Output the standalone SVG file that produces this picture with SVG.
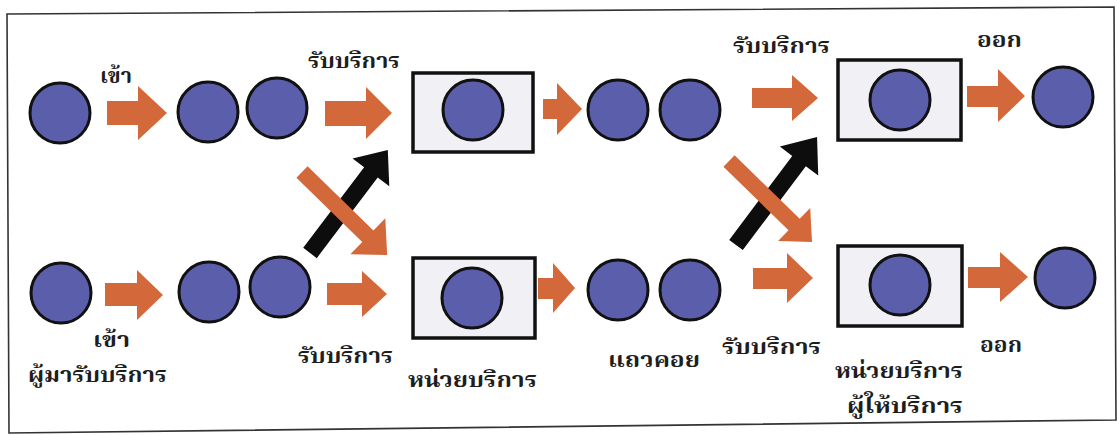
<svg xmlns="http://www.w3.org/2000/svg" width="1117" height="435" viewBox="0 0 1117 435">
  <style>
    .c { fill: #5a5eab; stroke: #111; stroke-width: 3; }
    .box { fill: #f1f1f5; stroke: #111; stroke-width: 3.5; }
    .oa { fill: #d3683b; }
    .ba { fill: #0d0d0d; }
    .t { font-family: "Noto Serif Thai", "Noto Sans Thai", "Loma", "Garuda", "DejaVu Sans", serif; font-size: 22px; font-weight: bold; fill: #1e1e1e; }
  </style>
  <defs>
    <!-- diagonal arrows, pointing along +x, tail at origin -->
    <polygon id="diagB1" points="0,-8.5 101,-8.5 101,-23 129,0 101,23 101,8.5 0,8.5"/>
    <polygon id="diagO1" points="0,-8 92,-8 92,-25 119,0 92,25 92,8 0,8"/>
    <polygon id="diagB2" points="0,-8.5 105,-8.5 105,-24 135,0 105,24 105,8.5 0,8.5"/>
    <polygon id="diagO2" points="0,-8 91,-8 91,-23 116,0 91,23 91,8 0,8"/>
  </defs>

  <rect width="1117" height="435" fill="#ffffff"/>
  <polygon points="7,14 1114,7 1116,420 9,433" fill="none" stroke="#333" stroke-width="1.6"/>

  <!-- connectors -->
  <g id="connectors">
    <!-- top row -->
    <polygon class="oa" points="107,101 138,101 138,86 167,113 138,140 138,125 107,125"/>
    <polygon class="oa" points="325,101 366,101 366,87 392,113 366,139 366,126 325,126"/>
    <polygon class="oa" points="543,99 557,99 557,83 582,109 557,135 557,119 543,119"/>
    <polygon class="oa" points="752,88 792,88 792,75 818,98 792,121 792,108 752,108"/>
    <polygon class="oa" points="967,86 998,86 998,69 1025,96 998,122 998,107 967,107"/>
    <!-- bottom row -->
    <polygon class="oa" points="105,283 137,283 137,270 163,295 137,320 137,306 105,306"/>
    <polygon class="oa" points="327,283 362,283 362,271 387,294 362,317 362,305 327,305"/>
    <polygon class="oa" points="538,278 553,278 553,263 575,288 553,313 553,299 538,299"/>
    <polygon class="oa" points="753,268 787,268 787,253 813,278 787,303 787,289 753,289"/>
    <polygon class="oa" points="968,267 1000,267 1000,252 1028,277 1000,302 1000,288 968,288"/>
    <!-- crossing arrows between the rows -->
    <use href="#diagB1" class="ba" transform="translate(310,253) rotate(-52.9)"/>
    <use href="#diagO1" class="oa" transform="translate(302,172) rotate(44.3)"/>
    <use href="#diagB2" class="ba" transform="translate(736,245) rotate(-53.1)"/>
    <use href="#diagO2" class="oa" transform="translate(729,161) rotate(44.3)"/>
  </g>

  <!-- customers arriving -->
  <g id="arrive-top"><circle class="c" cx="60" cy="113" r="30"/></g>
  <g id="arrive-bottom"><circle class="c" cx="61" cy="293" r="30"/></g>

  <!-- first queue -->
  <g id="queue1-top">
    <circle class="c" cx="208" cy="112" r="30"/>
    <circle class="c" cx="277" cy="108" r="30"/>
  </g>
  <g id="queue1-bottom">
    <circle class="c" cx="209" cy="292" r="30"/>
    <circle class="c" cx="280" cy="287" r="30"/>
  </g>

  <!-- first service stage -->
  <g id="server1-top">
    <rect class="box" x="413" y="73" width="120" height="79"/>
    <circle class="c" cx="473" cy="110" r="30"/>
  </g>
  <g id="server1-bottom">
    <rect class="box" x="413" y="258" width="122" height="80"/>
    <circle class="c" cx="472" cy="298" r="30"/>
  </g>

  <!-- second queue -->
  <g id="queue2-top">
    <circle class="c" cx="618" cy="110" r="30"/>
    <circle class="c" cx="690" cy="110" r="30"/>
  </g>
  <g id="queue2-bottom">
    <circle class="c" cx="618" cy="290" r="30"/>
    <circle class="c" cx="690" cy="290" r="30"/>
  </g>

  <!-- second service stage -->
  <g id="server2-top">
    <rect class="box" x="838" y="60" width="123" height="80"/>
    <circle class="c" cx="900" cy="100" r="30"/>
  </g>
  <g id="server2-bottom">
    <rect class="box" x="838" y="246" width="124" height="80"/>
    <circle class="c" cx="900" cy="285" r="30"/>
  </g>

  <!-- departures -->
  <g id="depart-top"><circle class="c" cx="1063" cy="97" r="30"/></g>
  <g id="depart-bottom"><circle class="c" cx="1065" cy="278" r="30"/></g>

  <!-- labels -->
  <g id="labels">
    <text class="t" x="100" y="83" textLength="32" lengthAdjust="spacingAndGlyphs">เข้า</text>
    <text class="t" x="308" y="68" textLength="92" lengthAdjust="spacingAndGlyphs">รับบริการ</text>
    <text class="t" x="733" y="53" textLength="97" lengthAdjust="spacingAndGlyphs">รับบริการ</text>
    <text class="t" x="977" y="47" textLength="45" lengthAdjust="spacingAndGlyphs">ออก</text>
    <text class="t" x="93" y="347" textLength="37" lengthAdjust="spacingAndGlyphs">เข้า</text>
    <text class="t" x="28" y="382" textLength="139" lengthAdjust="spacingAndGlyphs">ผู้มารับบริการ</text>
    <text class="t" x="298" y="363" textLength="95" lengthAdjust="spacingAndGlyphs">รับบริการ</text>
    <text class="t" x="408" y="387" textLength="129" lengthAdjust="spacingAndGlyphs">หน่วยบริการ</text>
    <text class="t" x="608" y="367" textLength="92" lengthAdjust="spacingAndGlyphs">แถวคอย</text>
    <text class="t" x="722" y="354" textLength="99" lengthAdjust="spacingAndGlyphs">รับบริการ</text>
    <text class="t" x="980" y="352" textLength="42" lengthAdjust="spacingAndGlyphs">ออก</text>
    <text class="t" x="835" y="378" textLength="128" lengthAdjust="spacingAndGlyphs">หน่วยบริการ</text>
    <text class="t" x="847" y="413" textLength="116" lengthAdjust="spacingAndGlyphs">ผู้ให้บริการ</text>
  </g>
</svg>
